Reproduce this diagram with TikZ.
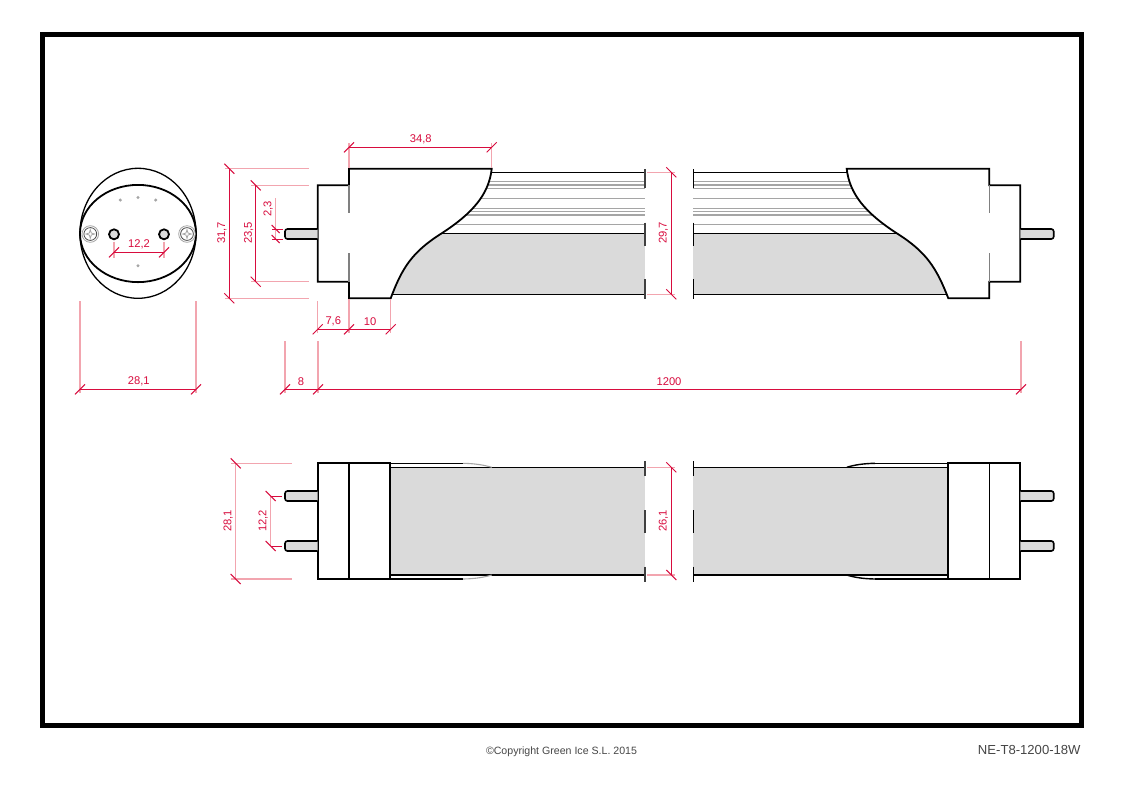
\documentclass[tikz,border=0pt]{standalone}
\usepackage{fontspec}
\setmainfont{Liberation Sans}
\definecolor{dimred}{RGB}{216,12,62}
\definecolor{dimpale}{RGB}{242,165,175}
\definecolor{tubegrey}{RGB}{218,218,218}
\definecolor{ribgrey}{RGB}{165,165,165}
\definecolor{textgrey}{RGB}{70,70,70}
\tikzset{
	outline/.style={line width=.9pt, black},
	thinline/.style={line width=.7pt, black},
	rib/.style={line width=.55pt, ribgrey},
	dimline/.style={line width=.5pt, dimred},
	extline/.style={line width=.7pt, dimpale},
	dimlabel/.style={text=dimred, inner sep=0pt, font=\fontsize{5.6}{6}\selectfont},
	pin/.style={line width=.8pt, black, fill=tubegrey, rounded corners=1.2pt},
	screw/.style={line width=.4pt, ribgrey}
}
\begin{document}
\begin{tikzpicture}[x=.5pt, y=-.5pt]
	\useasboundingbox (0,0) rectangle (1123,794);
	\fill[white] (0,0) rectangle (1123,794);
	\draw[line width=2.2pt, black] (42.5,34.5) rectangle (1081.5,725.5);

	% end view
	\draw[line width=.65pt] (138,233.3) ellipse (58 and 65);
	\draw[line width=.9pt] (138,233.5) ellipse (58 and 48.6);
	\fill[ribgrey] (120.3,200) circle (1.7);
	\fill[ribgrey] (138,197.5) circle (1.7);
	\fill[ribgrey] (155.7,200) circle (1.7);
	\fill[ribgrey] (138,265.7) circle (1.7);
	\draw[line width=.9pt, fill=tubegrey] (114,234.3) circle (5);
	\draw[line width=.9pt, fill=tubegrey] (164,234.3) circle (5);
	\draw[screw] (90.3,234) circle (8.3);
	\draw[screw, black!70] (90.3,234) circle (6.4);
	\draw[screw] (90.3,229.7) to (91.3,233) to (94.6,234) to (91.3,235) to (90.3,238.3) to (89.3,235) to (86,234) to (89.3,233) to cycle;
	\draw[screw] (187,234) circle (8.3);
	\draw[screw, black!70] (187,234) circle (6.4);
	\draw[screw] (187,229.7) to (188,233) to (191.3,234) to (188,235) to (187,238.3) to (186,235) to (182.7,234) to (186,233) to cycle;

	% side view, left half
	\fill[tubegrey] (380,233.3) rectangle (645,294.3);
	\draw[thinline] (440,172.3) to (645,172.3);
	\draw[rib] (440,181.7) to (645,181.7);
	\draw[rib] (440,185) to (645,185);
	\draw[rib] (440,188.3) to (645,188.3);
	\draw[rib] (440,198.3) to (645,198.3);
	\draw[rib] (440,208.3) to (645,208.3);
	\draw[rib] (440,211.7) to (645,211.7);
	\draw[rib] (440,215) to (645,215);
	\draw[rib] (440,224.3) to (645,224.3);
	\draw[thinline] (430,233.3) to (645,233.3);
	\draw[thinline] (380,294.3) to (645,294.3);
	\fill[white] (349,168.7) to (491.7,168.7) .. controls (489,194) and (473,213) .. (441.7,233.3) .. controls (412,252) and (402,268) .. (390.7,298.3) to (349,298.3) to cycle;
	\draw[outline] (317.7,185.3) to (349,185.3) to (349,168.7) to (491.7,168.7) .. controls (489,194) and (473,213) .. (441.7,233.3) .. controls (412,252) and (402,268) .. (390.7,298.3) to (349,298.3) to (349,281.7) to (317.7,281.7) to cycle;
	\draw[line width=.7pt, black!50] (349,185.3) to (349,213);
	\draw[line width=.7pt, black!50] (349,253) to (349,281.7);
	\draw[pin] (317.7,229) to (285,229) to (285,239) to (317.7,239);
	\draw[thinline, black!75] (645,169) to (645,188);
	\draw[thinline, black!75] (645,222.7) to (645,245.7);
	\draw[thinline, black!75] (645,279.3) to (645,299.3);

	% side view, right half
	\fill[tubegrey] (693.3,233.3) rectangle (958,294.3);
	\draw[thinline] (693.3,172.3) to (900,172.3);
	\draw[rib] (693.3,181.7) to (900,181.7);
	\draw[rib] (693.3,185) to (900,185);
	\draw[rib] (693.3,188.3) to (900,188.3);
	\draw[rib] (693.3,198.3) to (900,198.3);
	\draw[rib] (693.3,208.3) to (900,208.3);
	\draw[rib] (693.3,211.7) to (900,211.7);
	\draw[rib] (693.3,215) to (900,215);
	\draw[rib] (693.3,224.3) to (900,224.3);
	\draw[thinline] (693.3,233.3) to (908,233.3);
	\draw[thinline] (693.3,294.3) to (958,294.3);
	\fill[white] (989.3,168.7) to (846.7,168.7) .. controls (849.5,194) and (865.5,213) .. (896.8,233.3) .. controls (926.5,252) and (936.5,268) .. (948.3,298.3) to (989.3,298.3) to cycle;
	\draw[outline] (1020.3,185.3) to (989.3,185.3) to (989.3,168.7) to (846.7,168.7) .. controls (849.5,194) and (865.5,213) .. (896.8,233.3) .. controls (926.5,252) and (936.5,268) .. (948.3,298.3) to (989.3,298.3) to (989.3,281.7) to (1020.3,281.7) to cycle;
	\draw[line width=.7pt, black!50] (989.3,185.3) to (989.3,213);
	\draw[line width=.7pt, black!50] (989.3,253) to (989.3,281.7);
	\draw[pin] (1020.3,229) to (1053.7,229) to (1053.7,239) to (1020.3,239);
	\draw[thinline] (693.3,169) to (693.3,188);
	\draw[thinline] (693.3,222.7) to (693.3,245.7);
	\draw[thinline] (693.3,279.3) to (693.3,299.3);

	% plan view, left half
	\fill[tubegrey] (390.3,467.3) rectangle (645,575);
	\draw[thinline] (390.3,467.3) to (645,467.3);
	\draw[thinline] (390.3,575) to (645,575);
	\draw[thinline] (390.3,463.3) to (463,463.3);
	\draw[rib] (463,463.3) .. controls (475,463.5) and (484,465) .. (491.7,467.3);
	\draw[thinline] (390.3,579) to (463,579);
	\draw[rib] (463,579) .. controls (475,578.8) and (484,577.3) .. (491.7,575);
	\draw[outline, fill=white] (317.7,463.3) rectangle (390.3,579);
	\draw[thinline] (349,463.3) to (349,579);
	\draw[pin] (317.7,491) to (285,491) to (285,501) to (317.7,501);
	\draw[pin] (317.7,541) to (285,541) to (285,551) to (317.7,551);
	\draw[thinline, black!75] (645,461) to (645,476);
	\draw[thinline, black!75] (645,510) to (645,532.7);
	\draw[thinline, black!75] (645,566.7) to (645,581.7);

	% plan view, right half
	\fill[tubegrey] (693.3,467.3) rectangle (948.3,575);
	\draw[thinline] (693.3,467.3) to (948.3,467.3);
	\draw[thinline] (693.3,575) to (948.3,575);
	\draw[thinline] (875,463.3) to (948.3,463.3);
	\draw[thinline] (846.7,467.3) .. controls (854,465) and (863,463.5) .. (875,463.3);
	\draw[thinline] (875,579) to (948.3,579);
	\draw[thinline] (846.7,575) .. controls (854,577.3) and (863,578.8) .. (875,579);
	\draw[outline, fill=white] (948.3,463.3) rectangle (1020.3,579);
	\draw[thinline] (989.3,463.3) to (989.3,579);
	\draw[pin] (1020.3,491) to (1053.7,491) to (1053.7,501) to (1020.3,501);
	\draw[pin] (1020.3,541) to (1053.7,541) to (1053.7,551) to (1020.3,551);
	\draw[thinline] (693.3,461) to (693.3,476);
	\draw[thinline] (693.3,510) to (693.3,532.7);
	\draw[thinline] (693.3,566.7) to (693.3,581.7);

	% extension lines
	\draw[extline] (114,241.7) to (114,258);
	\draw[extline] (164,241.7) to (164,258);
	\draw[extline] (80,301) to (80,393);
	\draw[extline] (196,301) to (196,393);
	\draw[extline] (285,341) to (285,393);
	\draw[extline, line width=1pt] (318,341) to (318,393);
	\draw[extline] (1021,341) to (1021,393);
	\draw[extline] (317.7,301) to (317.7,333);
	\draw[extline] (349,299) to (349,333);
	\draw[extline] (390.7,299) to (390.7,333);
	\draw[extline] (349,143) to (349,168);
	\draw[extline] (491.7,143) to (491.7,168);
	\draw[extline] (225,168.7) to (309.3,168.7);
	\draw[extline] (225,298.3) to (309.3,298.3);
	\draw[extline] (251,185.3) to (309.3,185.3);
	\draw[extline] (251,281.7) to (309.3,281.7);
	\draw[extline] (647,172.3) to (675,172.3);
	\draw[extline] (647,294.3) to (675,294.3);
	\draw[extline] (231,463.3) to (291.7,463.3);
	\draw[extline] (231,579) to (291.7,579);
	\draw[extline] (647,467.3) to (675,467.3);
	\draw[extline] (647,575) to (675,575);

	% dimension lines
	\draw[dimline] (114,252.3) to (164,252.3);
	\draw[dimline] (109,257.3) to (119,247.3);
	\draw[dimline] (159,257.3) to (169,247.3);
	\draw[dimline] (80,389.3) to (196,389.3);
	\draw[dimline] (75,394.3) to (85,384.3);
	\draw[dimline] (191,394.3) to (201,384.3);
	\draw[dimline] (285,389.3) to (1021,389.3);
	\draw[dimline] (280,394.3) to (290,384.3);
	\draw[dimline] (313,394.3) to (323,384.3);
	\draw[dimline] (1016,394.3) to (1026,384.3);
	\draw[dimline] (317.7,329.3) to (390.7,329.3);
	\draw[dimline] (312.7,334.3) to (322.7,324.3);
	\draw[dimline] (344,334.3) to (354,324.3);
	\draw[dimline] (385.7,334.3) to (395.7,324.3);
	\draw[dimline] (349,147.3) to (491.7,147.3);
	\draw[dimline] (344,152.3) to (354,142.3);
	\draw[dimline] (486.7,152.3) to (496.7,142.3);
	\draw[dimline] (229.3,168.7) to (229.3,298.3);
	\draw[dimline] (224.3,163.7) to (234.3,173.7);
	\draw[dimline] (224.3,293.3) to (234.3,303.3);
	\draw[dimline] (255.7,185.3) to (255.7,281.7);
	\draw[dimline] (250.7,180.3) to (260.7,190.3);
	\draw[dimline] (250.7,276.7) to (260.7,286.7);
	\draw[extline] (275.7,198) to (275.7,239);
	\draw[dimline] (272,229) to (283,229);
	\draw[dimline] (272,239) to (283,239);
	\draw[dimline] (271.7,225) to (279.7,233);
	\draw[dimline] (271.7,235) to (279.7,243);
	\draw[dimline] (671.3,172.3) to (671.3,294.3);
	\draw[dimline] (666.3,167.3) to (676.3,177.3);
	\draw[dimline] (666.3,289.3) to (676.3,299.3);
	\draw[extline] (235.7,463.3) to (235.7,579);
	\draw[dimline] (230.7,458.3) to (240.7,468.3);
	\draw[dimline] (230.7,574) to (240.7,584);
	\draw[extline] (270.7,496) to (270.7,546);
	\draw[dimline] (270.7,496) to (282,496);
	\draw[dimline] (270.7,546) to (282,546);
	\draw[dimline] (265.7,491) to (275.7,501);
	\draw[dimline] (265.7,541) to (275.7,551);
	\draw[dimline] (671.3,467.3) to (671.3,575);
	\draw[dimline] (666.3,462.3) to (676.3,472.3);
	\draw[dimline] (666.3,570) to (676.3,580);

	\node[dimlabel] (pinsEnd) at(139,244){12,2};
	\node[dimlabel] (widthEnd) at(138.7,381){28,1};
	\node[dimlabel] (pinLen) at(301,382){8};
	\node[dimlabel] (tubeLen) at(669,382){1200};
	\node[dimlabel] (capStep) at(333.3,321){7,6};
	\node[dimlabel] (capBase) at(370,322){10};
	\node[dimlabel] (capTop) at(420.7,139.3){34,8};
	\node[dimlabel, rotate=90] (capHeight) at(222,233){31,7};
	\node[dimlabel, rotate=90] (endHeight) at(248.7,233){23,5};
	\node[dimlabel, rotate=90] (pinDia) at(268.3,209){2,3};
	\node[dimlabel, rotate=90] (tubeHeight) at(663.5,233){29,7};
	\node[dimlabel, rotate=90] (capWidth) at(228.3,520.7){28,1};
	\node[dimlabel, rotate=90] (pinsPlan) at(263.3,521){12,2};
	\node[dimlabel, rotate=90] (tubeWidth) at(663.5,520.7){26,1};

	\node[inner sep=0pt, text=textgrey, font=\fontsize{5.3}{6}\selectfont] (copyNote) at(561.5,751.5){©Copyright Green Ice S.L. 2015};
	\node[inner sep=0pt, anchor=east, text=textgrey, font=\fontsize{6.55}{7}\selectfont] (partNo) at(1081,750){NE-T8-1200-18W};
\end{tikzpicture}
\end{document}
